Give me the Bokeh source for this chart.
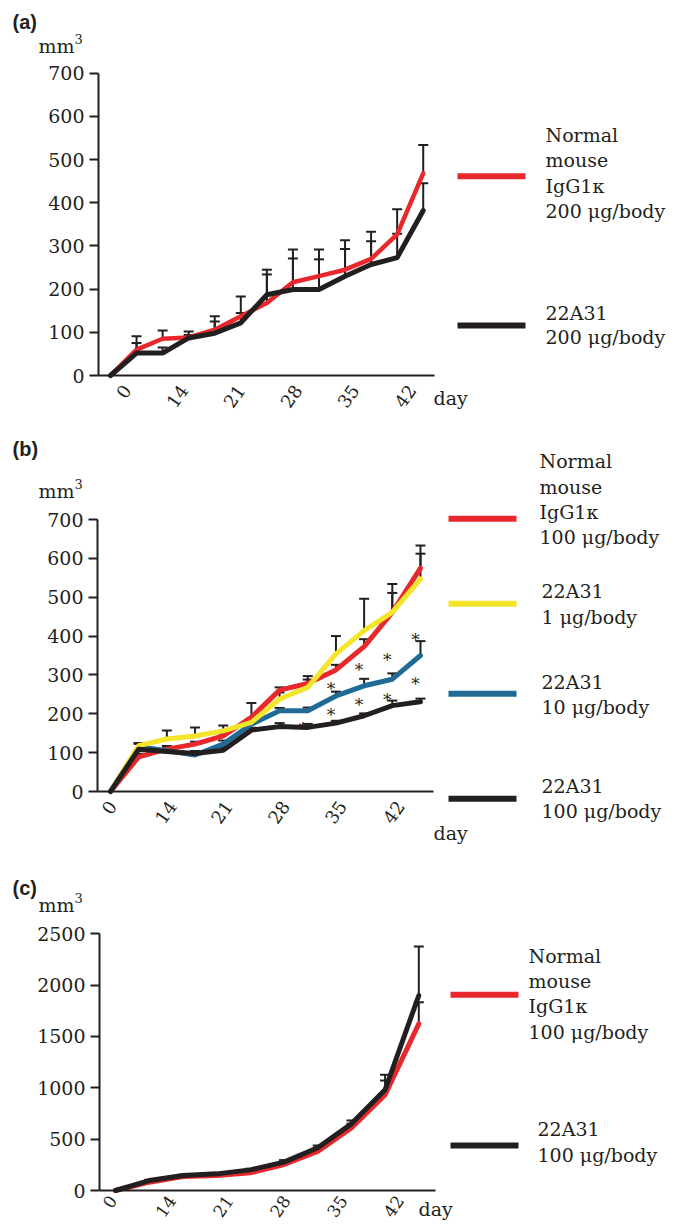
import math
from bokeh.plotting import figure
from bokeh.models import Range1d, FixedTicker, Label, Whisker, TeeHead, ColumnDataSource
from bokeh.layouts import column
from bokeh.embed import file_html
from bokeh.resources import INLINE
from bokeh.core.properties import value

# ---------------- data ----------------
tick_labels = ["0", "14", "21", "28", "35", "42"]

# (a) 200 ug/body
a_idx = list(range(13))
a_ctrl = [0, 60, 85, 88, 106, 137, 168, 216, 230, 245, 270, 327, 468]
a_ctrl_err = [0, 31, 19, 14, 31, 46, 66, 76, 62, 68, 63, 58, 66]
a_mab = [0, 52, 52, 87, 98, 122, 187, 199, 199, 230, 257, 273, 382]
a_mab_err = [0, 23, 13, 7, 27, 23, 58, 72, 70, 63, 54, 55, 63]

# (b) dose response
b_idx = list(range(12))
b_ctrl = [0, 89, 109, 122, 143, 191, 261, 278, 313, 373, 461, 575]
b_ctrl_err = [0, 8, 8, 6, 6, 37, 7, 19, 13, 19, 73, 58]
b_1 = [0, 118, 135, 143, 156, 178, 238, 268, 354, 414, 461, 547]
b_1_err = [0, 6, 22, 22, 14, 10, 17, 20, 46, 82, 50, 65]
b_10 = [0, 115, 105, 94, 122, 173, 208, 208, 246, 272, 289, 350]
b_10_err = [0, 8, 6, 8, 9, 5, 7, 8, 11, 18, 15, 37]
b_100 = [0, 109, 103, 98, 106, 158, 167, 165, 176, 195, 221, 231]
b_100_err = [0, 15, 5, 6, 8, 6, 9, 9, 6, 6, 13, 8]
b_sig_idx = [7, 8, 8, 9, 9, 10, 10, 11, 11]
b_sig_val = [172, 273, 208, 324, 234, 350, 247, 401, 286]

# (c) 100 ug/body
c_idx = list(range(10))
c_ctrl = [0, 81, 136, 146, 172, 253, 380, 610, 932, 1623]
c_ctrl_err = [0, 8, 8, 8, 10, 15, 30, 40, 139, 211]
c_mab = [0, 97, 146, 162, 201, 276, 416, 649, 981, 1899]
c_mab_err = [0, 8, 8, 8, 12, 20, 22, 33, 146, 478]

legend_a = [["Normal", "mouse", "IgG1\u03ba", "200 \u03bcg/body"], ["22A31", "200 \u03bcg/body"]]
legend_b = [["Normal", "mouse", "IgG1\u03ba", "100 \u03bcg/body"], ["22A31", "1 \u03bcg/body"],
            ["22A31", "10 \u03bcg/body"], ["22A31", "100 \u03bcg/body"]]
legend_c = [["Normal", "mouse", "IgG1\u03ba", "100 \u03bcg/body"], ["22A31", "100 \u03bcg/body"]]

# ---------------- style ----------------
W = 675
SERIF = "DejaVu Serif"
SANS = "Liberation Sans"
INK = "#231f20"
RED = "#e8282c"
YEL = "#f4e52b"
BLU = "#1f6b95"
BLK = "#231f20"


def make_panel(top, height, axis_x, y0, ref_val, ref_px, x0, dx, axis_end, ymax, ystep, tick_px,
               xlab_size=18, xlab_standoff=11):
    ppu = (y0 - ref_px) / ref_val
    X = lambda px: (px - x0) / dx
    Y = lambda py: (y0 - py) / ppu
    p = figure(width=W, height=height, title=None, output_backend="svg", toolbar_location=None,
               x_range=Range1d(X(0), X(W)), y_range=Range1d(Y(top + height), Y(top)),
               min_border_left=0, min_border_right=0, min_border_top=0, min_border_bottom=0)
    p.outline_line_color = None
    p.grid.visible = False
    p.background_fill_color = "white"
    p.border_fill_color = "white"

    ya = p.yaxis[0]
    ya.fixed_location = X(axis_x)
    ya.ticker = FixedTicker(ticks=list(range(0, ymax + 1, ystep)), minor_ticks=[])
    ya.bounds = (0, ymax)
    ya.axis_line_width = 2
    ya.axis_line_color = INK
    ya.major_tick_line_width = 2
    ya.major_tick_line_color = INK
    ya.major_tick_out = 9
    ya.major_tick_in = 0
    ya.minor_tick_out = 0
    ya.minor_tick_in = 0
    ya.major_label_standoff = 5
    ya.major_label_text_font = SERIF
    ya.major_label_text_font_size = "19px"
    ya.major_label_text_color = INK

    ticks = [X(t) for t in tick_px]
    xa = p.xaxis[0]
    xa.fixed_location = 0
    xa.ticker = FixedTicker(ticks=ticks, minor_ticks=[])
    xa.major_label_overrides = {t: lab for t, lab in zip(ticks, tick_labels)}
    xa.bounds = (X(axis_x), X(axis_end))
    xa.axis_line_width = 2
    xa.axis_line_color = INK
    xa.major_tick_out = 0
    xa.major_tick_in = 0
    xa.minor_tick_out = 0
    xa.minor_tick_in = 0
    xa.major_label_orientation = math.radians(55)
    xa.major_label_standoff = xlab_standoff
    xa.major_label_text_font = SERIF
    xa.major_label_text_font_size = f"{xlab_size}px"
    xa.major_label_text_color = INK
    return p, X, Y


def txt(p, X, Y, px, base, s, size=19, font=SERIF, style="normal"):
    # position given by the text baseline; anchored on the middle of the em box
    p.add_layout(Label(x=X(px), y=Y(base - 0.35 * size), text=s, text_font=font,
                       text_font_size=f"{size}px", text_font_style=style, text_color=INK,
                       text_align="left", text_baseline="middle"))


def errbars(p, idx, vals, errs):
    src = ColumnDataSource(dict(base=idx[1:], lower=vals[1:],
                                upper=[v + e for v, e in zip(vals[1:], errs[1:])]))
    p.add_layout(Whisker(source=src, base="base", lower="lower", upper="upper",
                         line_color=INK, line_width=2, lower_head=None,
                         upper_head=TeeHead(size=10, line_width=2, line_color=INK),
                         level="underlay"))


def series(p, idx, vals, color, width=5):
    p.line(idx, vals, line_color=color, line_width=width, line_join="round", line_cap="round")


def decorations(p, X, Y, tag, tag_base, mm_base, day_x, day_base):
    txt(p, X, Y, 12, tag_base, tag, size=20, font=SANS, style="bold")
    txt(p, X, Y, 38, mm_base, "mm", size=19)
    txt(p, X, Y, 74, mm_base - 9, "3", size=13)
    txt(p, X, Y, day_x, day_base, "day", size=19)


def legend(p, X, Y, sw_x0, sw_x1, sw_y, color, text_x, bases, lines):
    p.line([X(sw_x0), X(sw_x1)], [Y(sw_y), Y(sw_y)], line_color=color, line_width=6, line_cap="butt")
    for b, s in zip(bases, lines):
        txt(p, X, Y, text_x, b, s)


# ---------------- panel (a) ----------------
pa, Xa, Ya = make_panel(0, 420, 98, 375, 700, 72.7, 110, 26.06, 434, 700, 100,
                        [126, 183, 240, 297, 354, 411])
errbars(pa, a_idx, a_ctrl, a_ctrl_err)
errbars(pa, a_idx, a_mab, a_mab_err)
series(pa, a_idx, a_ctrl, RED, 4.5)
series(pa, a_idx, a_mab, BLK, 5)
decorations(pa, Xa, Ya, "(a)", 28.5, 51.7, 433, 404.5)
legend(pa, Xa, Ya, 457, 525, 175.7, RED, 545, [140.7, 166, 191.7, 217.3], legend_a[0])
legend(pa, Xa, Ya, 457, 525, 325, BLK, 545, [319.3, 343.3], legend_a[1])

# ---------------- panel (b) ----------------
pb, Xb, Yb = make_panel(420, 435, 97, 791, 700, 519, 110, 28.18, 433, 700, 100,
                        [111.5, 171.5, 227.5, 284.5, 341.5, 399.5])
for vals, errs in [(b_ctrl, b_ctrl_err), (b_1, b_1_err), (b_10, b_10_err), (b_100, b_100_err)]:
    errbars(pb, b_idx, vals, errs)
pb.text(x=b_sig_idx, y=b_sig_val, text=["*"] * len(b_sig_idx), text_font=value(SERIF),
        text_font_size="17px", text_color=INK, text_align="center", text_baseline="middle",
        x_offset=-5, y_offset=4)
series(pb, b_idx, b_ctrl, RED)
series(pb, b_idx, b_10, BLU)
series(pb, b_idx, b_1, YEL)
series(pb, b_idx, b_100, BLK)
decorations(pb, Xb, Yb, "(b)", 455.5, 496.7, 433, 839)
legend(pb, Xb, Yb, 448, 516, 518.3, RED, 539, [467, 493, 518.5, 543], legend_b[0])
legend(pb, Xb, Yb, 448, 516, 603.3, YEL, 541, [596.7, 622.7], legend_b[1])
legend(pb, Xb, Yb, 448, 516, 693.3, BLU, 541, [688.3, 712.7], legend_b[2])
legend(pb, Xb, Yb, 448, 516, 798.3, BLK, 541, [792.3, 816.7], legend_b[3])

# ---------------- panel (c) ----------------
pc, Xc, Yc = make_panel(855, 370, 99, 1190, 2500, 933.3, 115, 33.7, 435, 2500, 500,
                        [112.5, 171.5, 229, 286, 343, 399.5], xlab_size=17, xlab_standoff=7)
errbars(pc, c_idx, c_ctrl, c_ctrl_err)
errbars(pc, c_idx, c_mab, c_mab_err)
series(pc, c_idx, c_ctrl, RED)
series(pc, c_idx, c_mab, BLK)
decorations(pc, Xc, Yc, "(c)", 894.3, 910.7, 418, 1215)
legend(pc, Xc, Yc, 450, 518, 994.3, RED, 528, [961.7, 986.7, 1011.7, 1038], legend_c[0])
legend(pc, Xc, Yc, 450, 518, 1145, BLK, 537, [1135, 1161], legend_c[1])

layout = column(pa, pb, pc, spacing=0)
open("out.html", "w").write(file_html(layout, INLINE))
